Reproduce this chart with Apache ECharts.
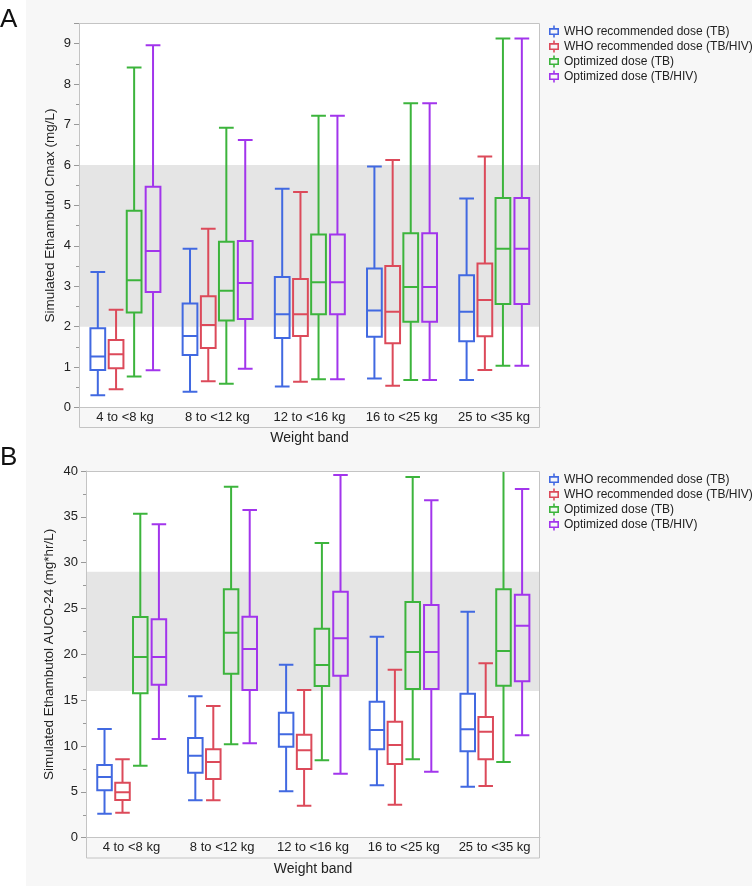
<!DOCTYPE html>
<html>
<head>
<meta charset="utf-8">
<script src="https://cdn.jsdelivr.net/npm/echarts@6/dist/echarts.min.js"></script>
<style>
  html, body { margin: 0; padding: 0; background: #fff; }
  #chart { width: 752px; height: 886px; }
</style>
</head>
<body>
<div id="chart"></div>
<script>
// categories / series names
const weightBands = ['4 to <8 kg', '8 to <12 kg', '12 to <16 kg', '16 to <25 kg', '25 to <35 kg'];
const doseNames = ['WHO recommended dose (TB)', 'WHO recommended dose (TB/HIV)', 'Optimized dose (TB)', 'Optimized dose (TB/HIV)'];
const doseColors = ['#4169E1', '#DC4A5A', '#3CB43C', '#A235EC'];

// panel A - Cmax, each row: [low whisker, Q1, median, Q3, high whisker]
const cmaxWhoTB = [[0.30, 0.93, 1.26, 1.96, 3.35], [0.39, 1.30, 1.77, 2.57, 3.93], [0.52, 1.72, 2.31, 3.23, 5.41], [0.72, 1.75, 2.40, 3.44, 5.96], [0.68, 1.64, 2.37, 3.27, 5.17]];
const cmaxWhoTBHIV = [[0.45, 0.97, 1.32, 1.67, 2.42], [0.65, 1.47, 2.04, 2.75, 4.42], [0.64, 1.77, 2.31, 3.18, 5.33], [0.54, 1.59, 2.37, 3.50, 6.12], [0.93, 1.76, 2.66, 3.56, 6.21]];
const cmaxOptTB = [[0.77, 2.35, 3.15, 4.87, 8.41], [0.59, 2.15, 2.89, 4.10, 6.92], [0.70, 2.31, 3.10, 4.28, 7.22], [0.68, 2.12, 2.98, 4.31, 7.53], [1.03, 2.56, 3.93, 5.18, 9.13]];
const cmaxOptTBHIV = [[0.92, 2.86, 3.87, 5.46, 8.96], [0.96, 2.19, 3.08, 4.12, 6.62], [0.70, 2.31, 3.10, 4.28, 7.22], [0.68, 2.12, 2.98, 4.31, 7.53], [1.03, 2.56, 3.93, 5.18, 9.13]];
const cmaxTarget = [2, 6];

// panel B - AUC0-24
const aucWhoTB = [[2.62, 5.17, 6.62, 7.93, 11.86], [4.08, 7.09, 8.94, 10.87, 15.42], [5.06, 9.93, 11.28, 13.63, 18.87], [5.71, 9.64, 11.75, 14.83, 21.93], [5.56, 9.42, 11.82, 15.71, 24.65]];
const aucWhoTBHIV = [[2.73, 4.11, 4.95, 6.00, 8.55], [4.08, 6.40, 8.26, 9.64, 14.36], [3.49, 7.49, 9.53, 11.24, 16.11], [3.60, 8.04, 10.11, 12.65, 18.33], [5.64, 8.55, 11.56, 13.17, 19.02]];
const aucOptTB = [[7.85, 15.75, 19.71, 24.07, 35.34], [10.19, 17.89, 22.36, 27.09, 38.29], [8.44, 16.55, 18.84, 22.80, 32.14], [8.55, 16.22, 20.26, 25.71, 39.34], [8.26, 16.58, 20.36, 27.09, 41.5]];
const aucOptTBHIV = [[10.77, 16.69, 19.71, 23.82, 34.18], [10.30, 16.11, 20.58, 24.11, 35.74], [6.98, 17.67, 21.75, 26.83, 39.56], [7.20, 16.22, 20.26, 25.38, 36.80], [11.17, 17.06, 23.12, 26.51, 38.03]];
const aucTarget = [16, 29];

const font = '"Liberation Sans", Arial, sans-serif';
const textColor = '#222';
// position of each dose inside a weight band (fraction of band width)
const slotOffset = [-0.296, -0.098, 0.098, 0.303];
const boxIcon = 'path://M4.2,0h1.6v2.6h-1.6z M0,2.6h10v1.6h-10z M0,8h10v1.6h-10z M0,2.6h1.6v7h-1.6z M8.4,2.6h1.6v7h-1.6z M4.2,9.6h1.6v2.4h-1.6z';

var myChart = echarts.init(document.getElementById('chart'));

function boxItem(slot) {
  var color = doseColors[slot];
  return function (params, api) {
    var band = api.size([1, 0])[0];
    var cat = api.value(0);
    var x = api.coord([cat, 0])[0] + slotOffset[slot] * band;
    var w = band * 0.16;
    var yLow = api.coord([cat, api.value(1)])[1];
    var yQ1 = api.coord([cat, api.value(2)])[1];
    var yMed = api.coord([cat, api.value(3)])[1];
    var yQ3 = api.coord([cat, api.value(4)])[1];
    var yHigh = api.coord([cat, api.value(5)])[1];
    var st = { stroke: color, lineWidth: 2, fill: 'none' };
    return {
      type: 'group',
      children: [
        { type: 'line', shape: { x1: x, y1: yHigh, x2: x, y2: yQ3 }, style: st },
        { type: 'line', shape: { x1: x, y1: yQ1, x2: x, y2: yLow }, style: st },
        { type: 'line', shape: { x1: x - w / 2, y1: yHigh, x2: x + w / 2, y2: yHigh }, style: st },
        { type: 'line', shape: { x1: x - w / 2, y1: yLow, x2: x + w / 2, y2: yLow }, style: st },
        { type: 'rect', shape: { x: x - w / 2, y: yQ3, width: w, height: yQ1 - yQ3 }, style: st },
        { type: 'line', shape: { x1: x - w / 2, y1: yMed, x2: x + w / 2, y2: yMed }, style: st }
      ]
    };
  };
}

function boxSeries(slot, rows, axis) {
  return {
    type: 'custom',
    name: doseNames[slot],
    xAxisIndex: axis,
    yAxisIndex: axis,
    clip: true,
    z: 3,
    itemStyle: { color: doseColors[slot] },
    encode: { x: 0, y: [1, 2, 3, 4, 5] },
    renderItem: boxItem(slot),
    data: rows.map(function (r, i) { return [i].concat(r); })
  };
}

function bandSeries(range, axis) {
  return {
    type: 'custom',
    xAxisIndex: axis,
    yAxisIndex: axis,
    silent: true,
    z: 1,
    encode: { x: 0, y: [1, 2] },
    renderItem: function (params, api) {
      var cs = params.coordSys;
      var yTop = api.coord([0, api.value(2)])[1];
      var yBot = api.coord([0, api.value(1)])[1];
      return { type: 'rect', shape: { x: cs.x, y: yTop, width: cs.width, height: yBot - yTop }, style: { fill: '#e5e5e5' } };
    },
    data: [[0, range[0], range[1]]]
  };
}

function yAxisOpt(idx, max, interval, name, gap) {
  return {
    gridIndex: idx, type: 'value', min: 0, max: max, interval: interval,
    name: name, nameLocation: 'middle', nameGap: gap, nameMoveOverlap: false,
    nameTextStyle: { fontSize: 13.5, color: textColor, fontFamily: font },
    axisLine: { show: true, lineStyle: { color: '#c4c4c4' } },
    axisTick: { show: true, length: 5, lineStyle: { color: '#999' } },
    minorTick: { show: true, splitNumber: 2, length: 3, lineStyle: { color: '#999' } },
    splitLine: { show: false },
    axisLabel: { fontSize: 13, color: textColor, fontFamily: font, margin: 8, showMaxLabel: max % interval === 0 }
  };
}

function xAxisOpt(idx) {
  return {
    gridIndex: idx, type: 'category', data: weightBands,
    axisLine: { show: true, lineStyle: { color: '#c4c4c4' } },
    axisTick: { show: false },
    axisLabel: { fontSize: 13, color: textColor, fontFamily: font, margin: 3, interval: 0 },
    name: 'Weight band', nameLocation: 'middle', nameGap: 24,
    nameTextStyle: { fontSize: 14, color: textColor, fontFamily: font }
  };
}

function legendOpt(top) {
  return {
    data: doseNames, orient: 'vertical', left: 549, top: top, padding: 0,
    icon: boxIcon, itemWidth: 10, itemHeight: 12, itemGap: 3,
    selectedMode: false,
    textStyle: { fontSize: 12, color: textColor, fontFamily: font }
  };
}

var option = {
  backgroundColor: '#f7f7f7',
  animation: false,
  textStyle: { fontFamily: font },
  grid: [
    { left: 79, top: 23.5, width: 461, height: 384, show: true, backgroundColor: '#fff', borderWidth: 0 },
    { left: 86, top: 471, width: 454, height: 366.7, show: true, backgroundColor: '#fff', borderWidth: 0 }
  ],
  xAxis: [xAxisOpt(0), xAxisOpt(1)],
  yAxis: [
    yAxisOpt(0, 9.5, 1, 'Simulated Ethambutol Cmax (mg/L)', 22),
    yAxisOpt(1, 40, 5, 'Simulated Ethambutol AUC0-24 (mg*hr/L)', 30)
  ],
  legend: [legendOpt(25.5), legendOpt(473.5)],
  graphic: [
    { type: 'rect', shape: { x: 0, y: 0, width: 26, height: 886 }, style: { fill: '#fff' }, z: 0 },
    { type: 'rect', shape: { x: 79.5, y: 23.5, width: 460, height: 404 }, style: { fill: 'none', stroke: '#c4c4c4', lineWidth: 1 }, z: 10 },
    { type: 'rect', shape: { x: 86.5, y: 471.5, width: 453, height: 386.5 }, style: { fill: 'none', stroke: '#c4c4c4', lineWidth: 1 }, z: 10 },
    { type: 'text', x: 0, y: 19.5, style: { text: 'A', font: '26px ' + font, fill: '#111', verticalAlign: 'middle' }, z: 11 },
    { type: 'text', x: 0, y: 457.5, style: { text: 'B', font: '26px ' + font, fill: '#111', verticalAlign: 'middle' }, z: 11 }
  ],
  series: [
    bandSeries(cmaxTarget, 0),
    boxSeries(0, cmaxWhoTB, 0),
    boxSeries(1, cmaxWhoTBHIV, 0),
    boxSeries(2, cmaxOptTB, 0),
    boxSeries(3, cmaxOptTBHIV, 0),
    bandSeries(aucTarget, 1),
    boxSeries(0, aucWhoTB, 1),
    boxSeries(1, aucWhoTBHIV, 1),
    boxSeries(2, aucOptTB, 1),
    boxSeries(3, aucOptTBHIV, 1)
  ]
};
myChart.setOption(option);
</script>
</body>
</html>
